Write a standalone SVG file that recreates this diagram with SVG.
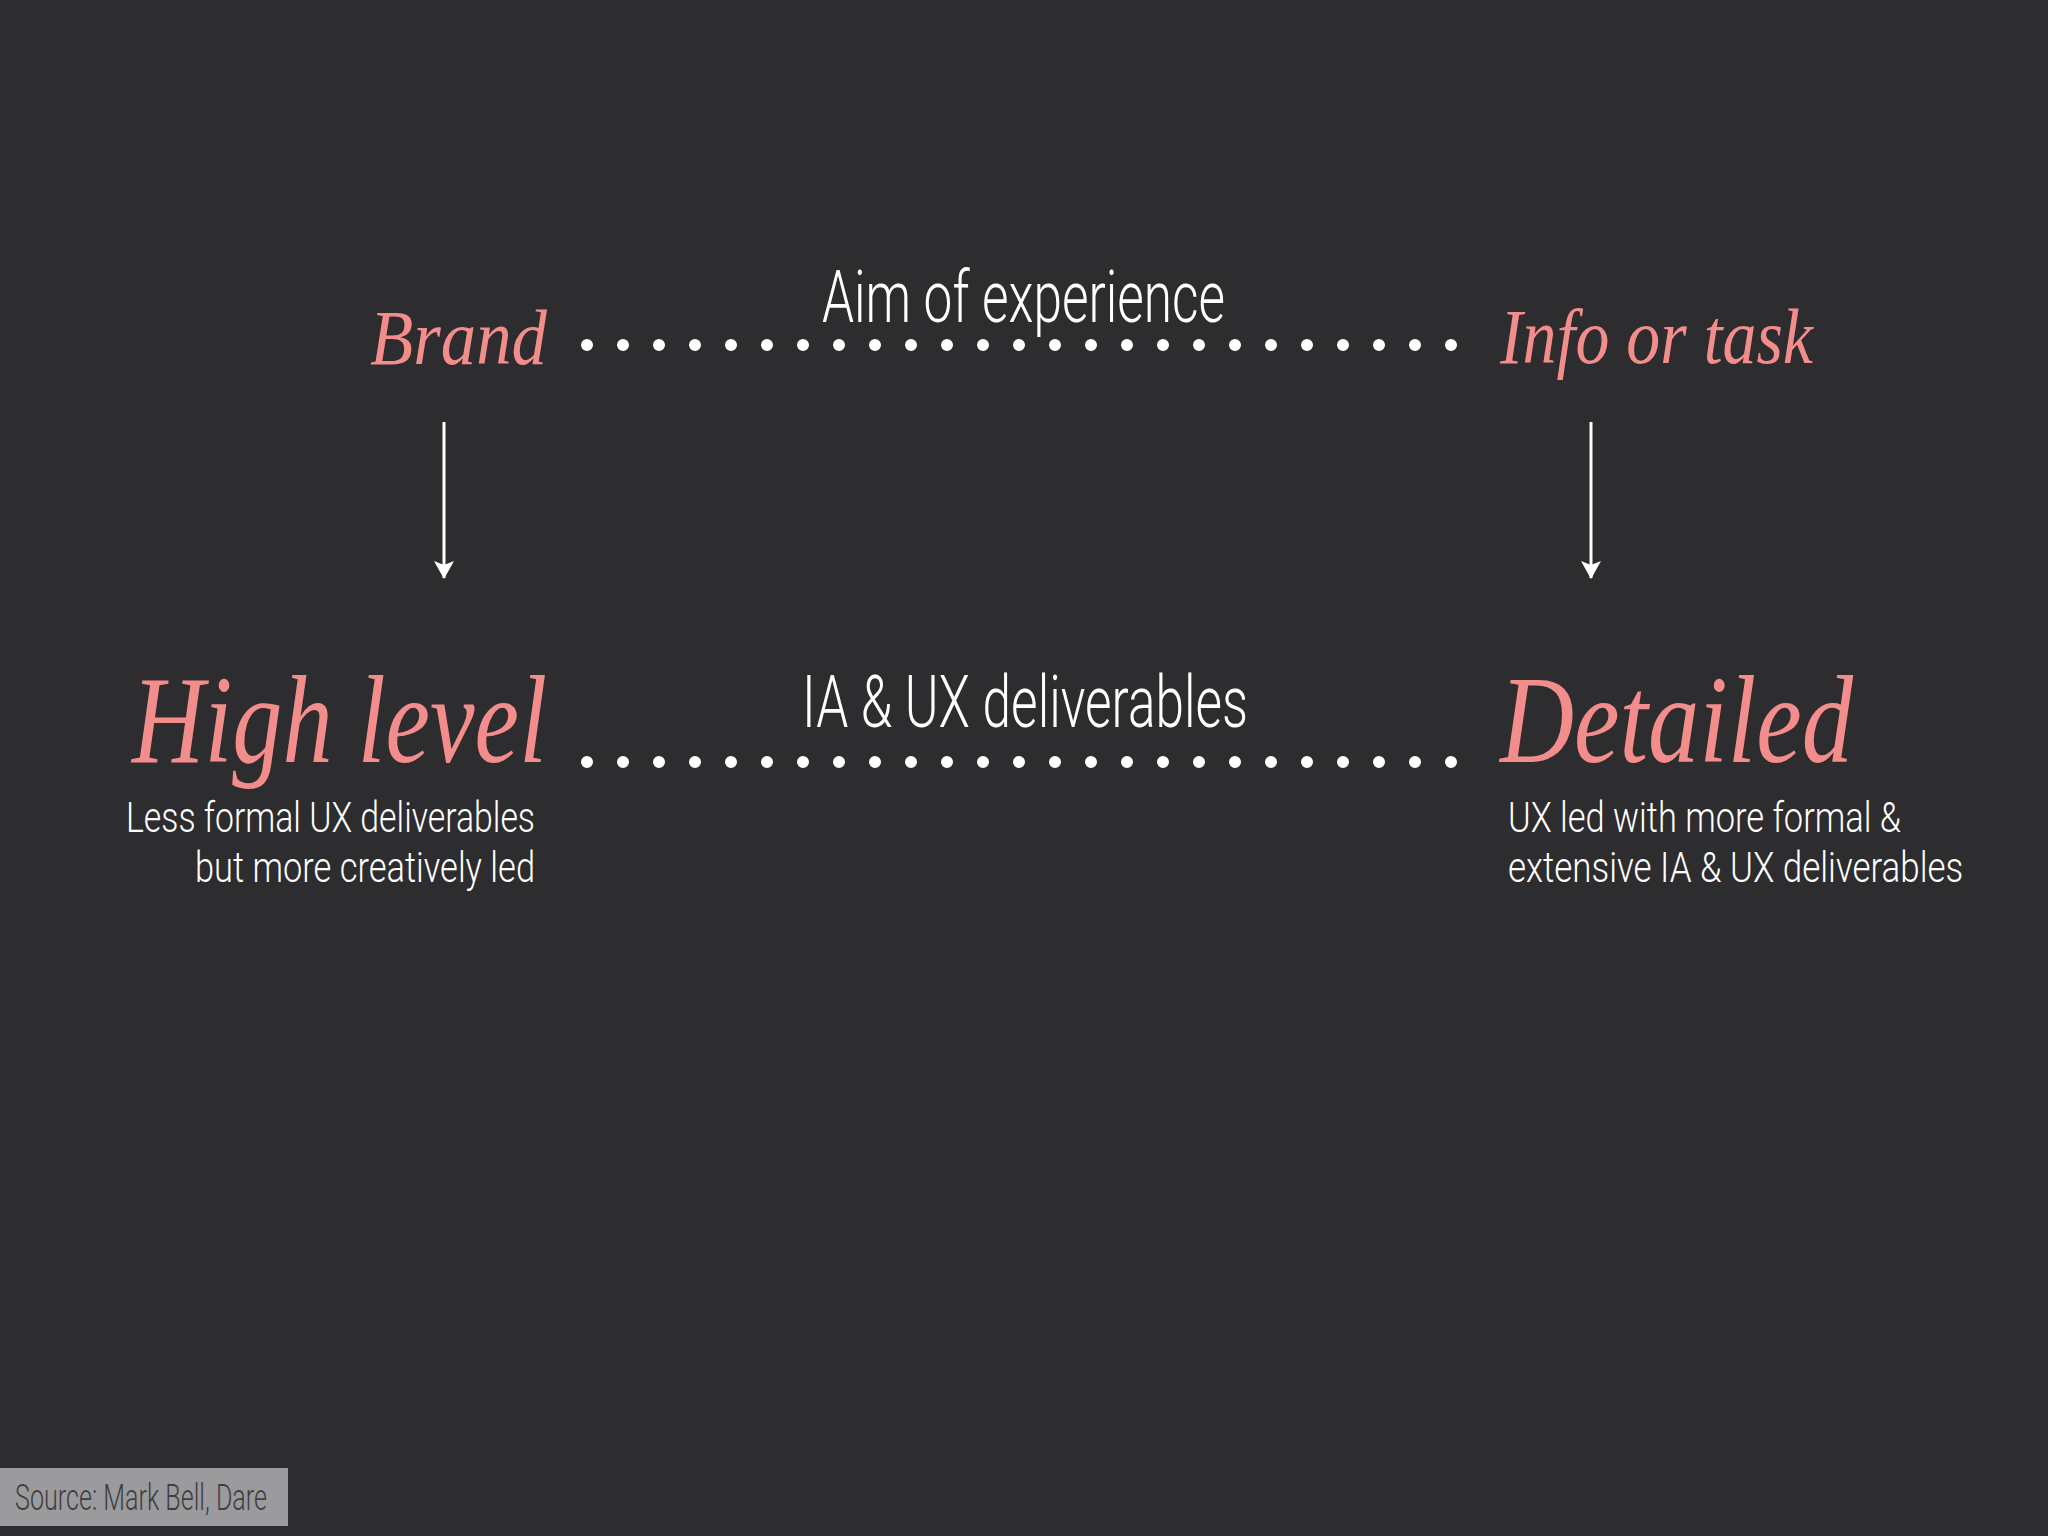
<svg xmlns="http://www.w3.org/2000/svg" width="2048" height="1536" viewBox="0 0 2048 1536">
  <style>
    .script { font-family: "Liberation Serif", "DejaVu Serif", serif; font-style: italic; fill: #F28D8C; }
    .thin { font-family: Roboto, "Liberation Sans", sans-serif; font-weight: 300; fill: #FFFFFF; }
    .dots { stroke: #FFFFFF; stroke-width: 12; stroke-linecap: round; stroke-dasharray: 0 36; fill: none; }
    .arrow { stroke: #FFFFFF; stroke-width: 3; fill: none; }
  </style>
  <defs>
    <marker id="down" viewBox="0 0 20 18" refX="10" refY="17" markerWidth="20" markerHeight="18" markerUnits="userSpaceOnUse" orient="0">
      <path d="M0,0 L10,4 L20,0 L10,18 Z" fill="#FFFFFF"/>
    </marker>
  </defs>
  <rect width="2048" height="1536" fill="#2D2C2E"/>

  <g id="connectors">
    <line class="dots" x1="587" y1="345" x2="1455" y2="345"/>
    <line class="dots" x1="587" y1="762" x2="1455" y2="762"/>
    <line class="arrow" x1="444" y1="422" x2="444" y2="578" marker-end="url(#down)"/>
    <line class="arrow" x1="1591" y1="422" x2="1591" y2="578" marker-end="url(#down)"/>
  </g>

  <g id="label-aim">
    <text class="thin" x="822" y="322" font-size="72" textLength="403" lengthAdjust="spacingAndGlyphs">Aim of experience</text>
  </g>
  <g id="node-brand">
    <text class="script" x="370" y="364" font-size="78" textLength="177" lengthAdjust="spacingAndGlyphs">Brand</text>
  </g>
  <g id="node-info">
    <text class="script" x="1500" y="363" font-size="78" textLength="313" lengthAdjust="spacingAndGlyphs">Info or task</text>
  </g>

  <g id="label-ia">
    <text class="thin" x="802" y="727" font-size="72" textLength="446" lengthAdjust="spacingAndGlyphs">IA &amp; UX deliverables</text>
  </g>
  <g id="node-high-level">
    <text class="script" x="132" y="762" font-size="124" textLength="415" lengthAdjust="spacingAndGlyphs">High level</text>
    <text class="thin" x="535" y="832" font-size="42" text-anchor="end" textLength="409" lengthAdjust="spacingAndGlyphs">Less formal UX deliverables</text>
    <text class="thin" x="535" y="882" font-size="42" text-anchor="end" textLength="340" lengthAdjust="spacingAndGlyphs">but more creatively led</text>
  </g>
  <g id="node-detailed">
    <text class="script" x="1500" y="762" font-size="124" textLength="353" lengthAdjust="spacingAndGlyphs">Detailed</text>
    <text class="thin" x="1508" y="832" font-size="42" textLength="393" lengthAdjust="spacingAndGlyphs">UX led with more formal &amp;</text>
    <text class="thin" transform="translate(1508 882) scale(0.8 1)" x="0" y="0" font-size="42" textLength="569" lengthAdjust="spacingAndGlyphs">extensive IA &amp; UX deliverables</text>
  </g>

  <g id="source">
    <rect x="0" y="1468" width="288" height="58" fill="#9B9A9D"/>
    <text x="15" y="1510" font-family="Roboto, 'Liberation Sans', sans-serif" font-weight="300" font-size="37" fill="#3F3E41" textLength="252" lengthAdjust="spacingAndGlyphs">Source: Mark Bell, Dare</text>
  </g>
</svg>
